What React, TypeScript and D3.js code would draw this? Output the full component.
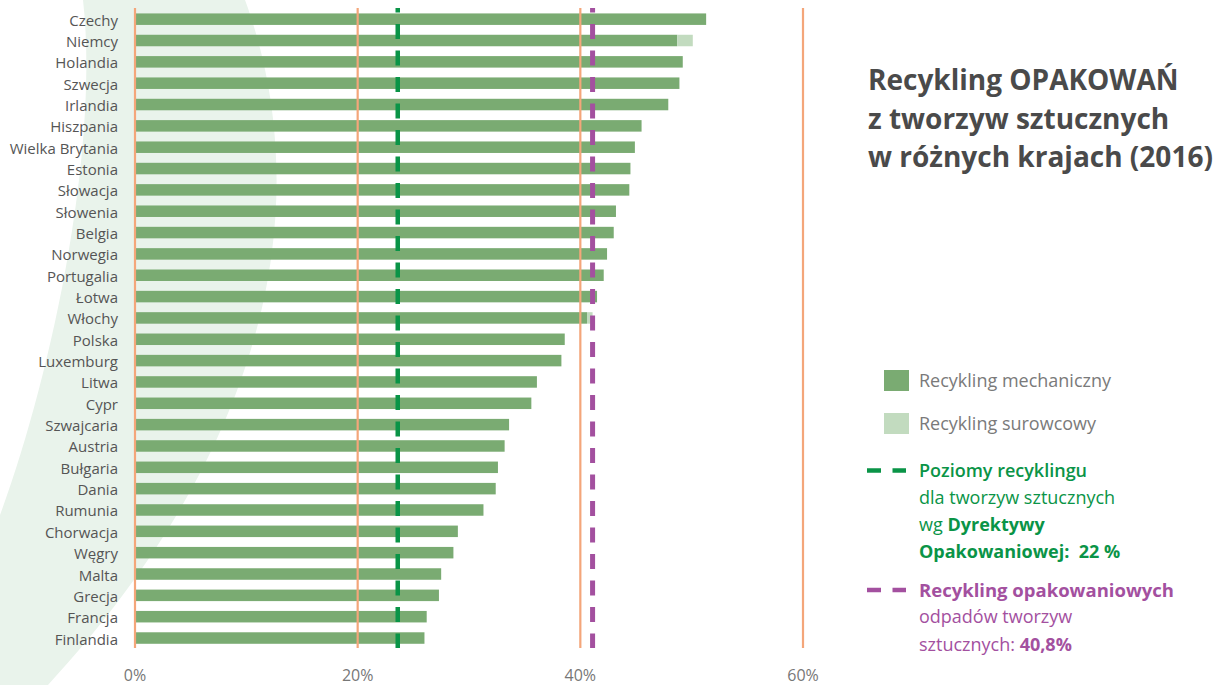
import React from "react";
import * as d3 from "d3";

const countries = [
  "Czechy", "Niemcy", "Holandia", "Szwecja", "Irlandia", "Hiszpania", "Wielka Brytania",
  "Estonia", "Słowacja", "Słowenia", "Belgia", "Norwegia", "Portugalia", "Łotwa", "Włochy",
  "Polska", "Luxemburg", "Litwa", "Cypr", "Szwajcaria", "Austria", "Bułgaria", "Dania",
  "Rumunia", "Chorwacja", "Węgry", "Malta", "Grecja", "Francja", "Finlandia",
];
const mechanical = [
  51.3, 48.7, 49.2, 48.9, 47.9, 45.5, 44.9, 44.5, 44.4, 43.2, 43.0, 42.4, 42.1, 41.5, 40.6,
  38.6, 38.3, 36.1, 35.6, 33.6, 33.2, 32.6, 32.4, 31.3, 29.0, 28.6, 27.5, 27.3, 26.2, 26.0,
];
const feedstock = [
  0, 1.4, 0, 0, 0, 0, 0, 0, 0, 0, 0, 0, 0, 0, 0.5,
  0, 0, 0, 0, 0, 0, 0, 0, 0, 0, 0, 0, 0, 0, 0,
];
const tickValues = [0, 20, 40, 60];
const directiveLine = 23.6;
const averageLine = 41.1;

const C_MECH = "#7aab72";
const C_FEED = "#c2dbbf";
const C_GRID = "#f4a67a";
const C_GREEN = "#0a9447";
const C_PURPLE = "#a3509f";
const FONT = "'Open Sans', 'Noto Sans', sans-serif";

export default function App() {
  const x = d3.scaleLinear().domain([0, 60]).range([135, 803]);
  const y = d3.scalePoint<string>().domain(countries).range([8.5, 648.7]).padding(0.5);
  const barH = 11.5;
  const lineTop = 8;
  const lineBottom = 648;

  const bgPath =
    "M 245 0 C 300 150 310 400 48 685 L 0 685 L 0 515 C 50 380 100 150 83 0 Z";

  return (
    <svg
      width={1214}
      height={685}
      style={{ position: "absolute", left: 0, top: 0, background: "#fff" }}
      fontFamily={FONT}
    >
      <path d={bgPath} fill="#e9f3eb" />

      {countries.map((c, i) => (
        <g key={c}>
          <rect
            x={x(0)}
            y={(y(c) as number) - barH / 2}
            width={x(mechanical[i]) - x(0)}
            height={barH}
            fill={C_MECH}
          />
          {feedstock[i] > 0 && (
            <rect
              x={x(mechanical[i])}
              y={(y(c) as number) - barH / 2}
              width={x(mechanical[i] + feedstock[i]) - x(mechanical[i])}
              height={barH}
              fill={C_FEED}
            />
          )}
          <text
            x={118}
            y={(y(c) as number) + 6.5}
            textAnchor="end"
            fontSize={15}
            fill="#555"
          >
            {c}
          </text>
        </g>
      ))}

      {tickValues.map((t) => (
        <g key={t}>
          <line x1={x(t)} x2={x(t)} y1={lineTop} y2={lineBottom} stroke={C_GRID} strokeWidth={2.2} />
          <text x={x(t)} y={681} textAnchor="middle" fontSize={16} fill="#777">
            {t}%
          </text>
        </g>
      ))}

      <line
        x1={x(directiveLine)}
        x2={x(directiveLine)}
        y1={lineTop}
        y2={lineBottom}
        stroke={C_GREEN}
        strokeWidth={4.5}
        strokeDasharray="15 11.5"
        strokeDashoffset={10.5}
      />
      <line
        x1={x(averageLine)}
        x2={x(averageLine)}
        y1={lineTop}
        y2={lineBottom}
        stroke={C_PURPLE}
        strokeWidth={5}
        strokeDasharray="15 11.5"
        strokeDashoffset={10.5}
      />

      <g fontWeight={700} fontSize={28} fill="#4a4a4a">
        <text x={868} y={90}>Recykling OPAKOWAŃ</text>
        <text x={868} y={128.5}>z tworzyw sztucznych</text>
        <text x={868} y={167}>w różnych krajach (2016)</text>
      </g>

      <rect x={884} y={370} width={25} height={21} fill={C_MECH} />
      <text x={919} y={387} fontSize={18} fill="#7a7a7a">Recykling mechaniczny</text>
      <rect x={884} y={413} width={25} height={21} fill={C_FEED} />
      <text x={919} y={430} fontSize={18} fill="#7a7a7a">Recykling surowcowy</text>

      <line x1={867} x2={906} y1={470.5} y2={470.5} stroke={C_GREEN} strokeWidth={4.5} strokeDasharray="14 11.5" />
      <g fontSize={18} fill={C_GREEN}>
        <text x={919} y={477} fontWeight={600}>Poziomy recyklingu</text>
        <text x={919} y={504}>dla tworzyw sztucznych</text>
        <text x={919} y={531}>
          wg <tspan fontWeight={700}>Dyrektywy</tspan>
        </text>
        <text x={919} y={558} fontWeight={700} xmlSpace="preserve">Opakowaniowej:  22 %</text>
      </g>

      <line x1={867} x2={906} y1={590} y2={590} stroke={C_PURPLE} strokeWidth={4.5} strokeDasharray="14 11.5" />
      <g fontSize={18} fill={C_PURPLE}>
        <text x={919} y={596.5} fontWeight={700} fontSize={18.5}>Recykling opakowaniowych</text>
        <text x={919} y={623}>odpadów tworzyw</text>
        <text x={919} y={651}>
          sztucznych: <tspan fontWeight={700}>40,8%</tspan>
        </text>
      </g>
    </svg>
  );
}
